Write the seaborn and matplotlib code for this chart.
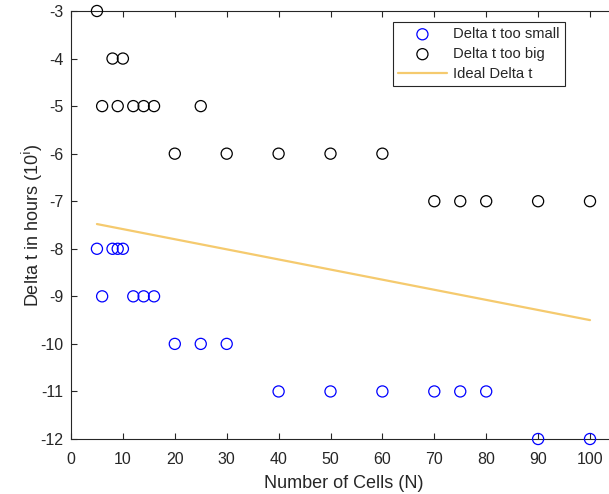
import matplotlib
matplotlib.use("Agg")
import matplotlib.pyplot as plt
import seaborn as sns
import pandas as pd

# Data
small_x = [5, 6, 8, 9, 10, 12, 14, 16, 20, 25, 30, 40, 50, 60, 70, 75, 80, 90, 100]
small_y = [-8, -9, -8, -8, -8, -9, -9, -9, -10, -10, -10, -11, -11, -11, -11, -11, -11, -12, -12]
big_x = [5, 6, 8, 9, 10, 12, 14, 16, 20, 25, 30, 40, 50, 60, 70, 75, 80, 90, 100]
big_y = [-3, -5, -4, -5, -4, -5, -5, -5, -6, -5, -6, -6, -6, -6, -7, -7, -7, -7, -7]
ideal_x = [5, 100]
ideal_y = [-7.48, -9.5]
xticks = [0, 10, 20, 30, 40, 50, 60, 70, 80, 90, 100]
yticks = [-12, -11, -10, -9, -8, -7, -6, -5, -4, -3]

sns.set_style("ticks")
plt.rcParams['font.family'] = ['Liberation Sans', 'DejaVu Sans']

fig = plt.figure(figsize=(6.09, 4.94), dpi=100)
# the axes box extends past the right edge of the image (as in the reference)
ax = fig.add_axes([71 / 609, 1 - 439 / 494, (617 - 71) / 609, (439 - 11) / 494])

df_s = pd.DataFrame({"x": small_x, "y": small_y})
df_b = pd.DataFrame({"x": big_x, "y": big_y})
df_i = pd.DataFrame({"x": ideal_x, "y": ideal_y})

sns.scatterplot(data=df_s, x="x", y="y", ax=ax, marker="o", s=64,
                facecolors="none", edgecolor="#0000FF", linewidth=0.9,
                label="Delta t too small", clip_on=False, zorder=3)
sns.scatterplot(data=df_b, x="x", y="y", ax=ax, marker="o", s=64,
                facecolors="none", edgecolor="#000000", linewidth=0.9,
                label="Delta t too big", clip_on=False, zorder=3)
sns.lineplot(data=df_i, x="x", y="y", ax=ax, color="#F5CA6E", linewidth=1.6,
             label="Ideal Delta t")

ax.set_xlim(0, 100 * (617 - 71) / (590 - 71))
ax.set_ylim(-12, -3)
ax.set_xticks(xticks)
ax.set_yticks(yticks)
ax.set_xticklabels([str(t) for t in xticks])
ax.set_yticklabels([str(t) for t in yticks])
ax.tick_params(direction="in", length=4, width=0.8, labelsize=11.5, colors="#262626",
               top=True, right=True)
ax.tick_params(axis="x", pad=9)
ax.tick_params(axis="y", pad=5.5)
ax.set_xlabel("Number of Cells (N)", fontsize=13, color="#262626", labelpad=6)
ax.set_ylabel("Delta t in hours (10$^{\\mathrm{i}}$)", fontsize=13, color="#262626", labelpad=-3.5)
for side in ["left", "bottom", "top", "right"]:
    ax.spines[side].set_visible(True)
    ax.spines[side].set_color("#262626")
    ax.spines[side].set_linewidth(0.8)

leg = ax.legend(loc="upper right", bbox_to_anchor=(565 / 609, 1 - 22 / 494),
                bbox_transform=fig.transFigure, fontsize=10.6, frameon=True,
                fancybox=False, edgecolor="#262626", framealpha=1,
                borderpad=0.35, labelspacing=0.4, handlelength=3.3,
                handletextpad=0.45, borderaxespad=0)
leg.get_frame().set_linewidth(0.8)

fig.savefig("out.png", dpi=100)
